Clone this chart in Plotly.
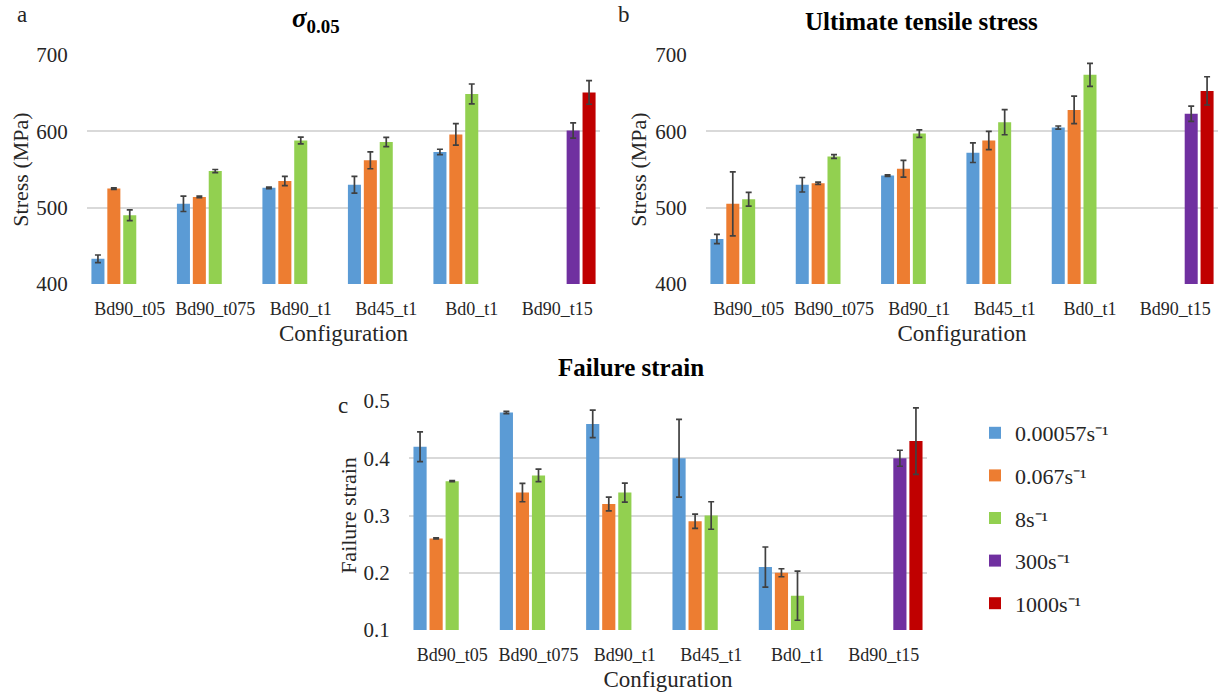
import plotly.graph_objects as go

categories = ["Bd90_t05", "Bd90_t075", "Bd90_t1", "Bd45_t1", "Bd0_t1", "Bd90_t15"]
series_names = ["0.00057s⁻¹", "0.067s⁻¹", "8s⁻¹", "300s⁻¹", "1000s⁻¹"]
series_colors = ["#5B9BD5", "#ED7D31", "#92D050", "#7030A0", "#C00000"]

# Panel a: sigma_0.05 (MPa)
a_blue = [433, 505, 526, 530, 573, None]
a_blue_err = [5, 10, 1, 11, 3.5, None]
a_orange = [525, 514, 535, 562, 596, None]
a_orange_err = [1, 1, 6, 11, 14, None]
a_green = [490, 548, 588, 586, 649, None]
a_green_err = [7, 2, 4.4, 6, 13, None]
a_purple = [None, None, None, None, None, 601]
a_purple_err = [None, None, None, None, None, 10]
a_red = [None, None, None, None, None, 651]
a_red_err = [None, None, None, None, None, 15.5]

# Panel b: ultimate tensile stress (MPa)
b_blue = [459, 530, 542, 572, 605, None]
b_blue_err = [6, 9.5, 1, 12.8, 2, None]
b_orange = [505, 532, 551, 588, 628, None]
b_orange_err = [42, 1.5, 11, 12, 18, None]
b_green = [511, 567, 597, 612, 674, None]
b_green_err = [9, 2.5, 5, 16.5, 15, None]
b_purple = [None, None, None, None, None, 623]
b_purple_err = [None, None, None, None, None, 10]
b_red = [None, None, None, None, None, 653]
b_red_err = [None, None, None, None, None, 18.5]

# Panel c: failure strain
c_blue = [0.42, 0.48, 0.46, 0.40, 0.21, None]
c_blue_err = [0.026, 0.002, 0.024, 0.068, 0.035, None]
c_orange = [0.26, 0.34, 0.32, 0.29, 0.20, None]
c_orange_err = [0.001, 0.016, 0.012, 0.0125, 0.007, None]
c_green = [0.36, 0.37, 0.34, 0.30, 0.16, None]
c_green_err = [0.001, 0.011, 0.0165, 0.024, 0.043, None]
c_purple = [None, None, None, None, None, 0.40]
c_purple_err = [None, None, None, None, None, 0.014]
c_red = [None, None, None, None, None, 0.43]
c_red_err = [None, None, None, None, None, 0.058]

panels = [
    ("x", "y", [a_blue, a_orange, a_green, a_purple, a_red],
     [a_blue_err, a_orange_err, a_green_err, a_purple_err, a_red_err]),
    ("x2", "y2", [b_blue, b_orange, b_green, b_purple, b_red],
     [b_blue_err, b_orange_err, b_green_err, b_purple_err, b_red_err]),
    ("x3", "y3", [c_blue, c_orange, c_green, c_purple, c_red],
     [c_blue_err, c_orange_err, c_green_err, c_purple_err, c_red_err]),
]

W, H = 1220, 695
FONT = "Liberation Serif"
TXT = "#262626"

fig = go.Figure()
for pi, (xa, ya, vals, errs) in enumerate(panels):
    for si in range(5):
        fig.add_trace(go.Bar(
            x=categories, y=vals[si],
            name=series_names[si],
            marker=dict(color=series_colors[si], line=dict(width=0)),
            error_y=dict(type="data", array=errs[si], visible=True,
                         color="#404040", thickness=1.7, width=3),
            xaxis=xa, yaxis=ya,
            legendgroup=series_names[si],
            showlegend=(pi == 2),
        ))


def px_x(x):
    return x / W


def px_y(y):
    return 1 - y / H


grid = "#D9D9D9"
xcommon = dict(type="category", showgrid=False, showline=False, zeroline=False,
               automargin=False,
               ticks="outside", ticklen=8, tickcolor="rgba(0,0,0,0)",
               tickfont=dict(family=FONT, size=18, color=TXT),
               title=dict(text="Configuration", font=dict(family=FONT, size=23, color=TXT),
                          standoff=7))
ycommon = dict(showgrid=True, gridcolor=grid, gridwidth=1.5, zeroline=False, showline=False,
               automargin=False,
               ticks="outside", ticklen=14, tickcolor="rgba(0,0,0,0)",
               tickfont=dict(family=FONT, size=21, color=TXT))

fig.update_layout(
    width=W, height=H,
    margin=dict(l=0, r=0, t=0, b=0, autoexpand=False),
    paper_bgcolor="white", plot_bgcolor="white",
    barmode="group", bargap=0.07, bargroupgap=0.18,
    xaxis=dict(domain=[px_x(87), px_x(600)], anchor="y", **xcommon),
    yaxis=dict(domain=[px_y(284), px_y(55)], anchor="x", range=[400, 700], dtick=100,
               title=dict(text="Stress (MPa)", font=dict(family=FONT, size=22, color=TXT),
                          standoff=1),
               **ycommon),
    xaxis2=dict(domain=[px_x(706), px_x(1218)], anchor="y2", **xcommon),
    yaxis2=dict(domain=[px_y(284), px_y(55)], anchor="x2", range=[400, 700], dtick=100,
                title=dict(text="Stress (MPa)", font=dict(family=FONT, size=22, color=TXT),
                           standoff=2),
                **ycommon),
    xaxis3=dict(domain=[px_x(409), px_x(927)], anchor="y3", **xcommon),
    yaxis3=dict(domain=[px_y(630), px_y(401)], anchor="x3", range=[0.1, 0.5], dtick=0.1,
                tickformat=".1f",
                title=dict(text="Failure strain", font=dict(family=FONT, size=22, color=TXT),
                           standoff=0),
                **ycommon),
    legend=dict(x=px_x(975), y=px_y(412), xanchor="left", yanchor="top",
                font=dict(family=FONT, size=22, color=TXT),
                tracegroupgap=11, bgcolor="rgba(0,0,0,0)"),
    showlegend=True,
)

annots = [
    dict(text="a", x=px_x(22), y=px_y(15)),
    dict(text="b", x=px_x(624), y=px_y(15)),
    dict(text="c", x=px_x(343), y=px_y(405)),
]
for a in annots:
    fig.add_annotation(xref="paper", yref="paper", x=a["x"], y=a["y"], text=a["text"],
                       showarrow=False, xanchor="center", yanchor="middle",
                       font=dict(family=FONT, size=23, color=TXT))

titles = [
    ("<b><i>σ</i><sub>0.05</sub></b>", 316, 20, 27),
    ("<b>Ultimate tensile stress</b>", 921, 22, 25),
    ("<b>Failure strain</b>", 631, 367, 25),
]
for t, x, y, s in titles:
    fig.add_annotation(xref="paper", yref="paper", x=px_x(x), y=px_y(y), text=t,
                       showarrow=False, xanchor="center", yanchor="middle",
                       font=dict(family=FONT, size=s, color="#000000"))

fig.write_html(
    "out.html",
    config={"displayModeBar": False},
    post_script="document.body.style.margin='0';document.body.style.overflow='hidden';",
)
